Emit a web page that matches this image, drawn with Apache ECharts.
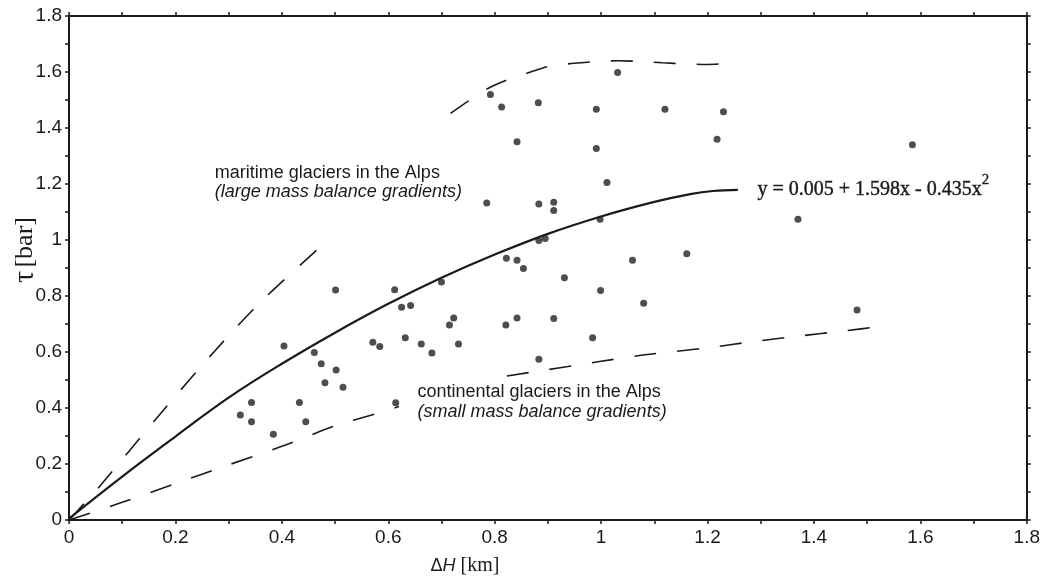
<!DOCTYPE html>
<html>
<head>
<meta charset="utf-8">
<script src="https://cdn.jsdelivr.net/npm/echarts@6/dist/echarts.min.js"></script>
<style>
  html, body { margin: 0; padding: 0; background: #fff; }
  #chart { width: 1043px; height: 579px; }
</style>
</head>
<body>
<div id="chart"></div>
<script>
// Individual glaciers: elevation range ΔH [km] against basal shear stress τ [bar]
const glacierPoints = [
  [0.322, 0.375], [0.343, 0.420], [0.343, 0.351], [0.384, 0.306], [0.404, 0.621],
  [0.433, 0.420], [0.445, 0.351], [0.461, 0.598], [0.474, 0.558], [0.481, 0.490],
  [0.501, 0.821], [0.502, 0.536], [0.515, 0.474], [0.571, 0.635], [0.584, 0.620],
  [0.612, 0.822], [0.614, 0.419], [0.625, 0.760], [0.642, 0.766], [0.632, 0.651],
  [0.662, 0.629], [0.682, 0.596], [0.700, 0.850], [0.715, 0.696], [0.723, 0.721],
  [0.732, 0.629], [0.785, 1.132], [0.792, 1.520], [0.813, 1.475], [0.821, 0.696],
  [0.822, 0.935], [0.842, 0.721], [0.842, 0.928], [0.842, 1.351], [0.854, 0.898],
  [0.882, 1.490], [0.883, 1.129], [0.883, 0.998], [0.895, 1.005], [0.883, 0.574],
  [0.911, 1.135], [0.911, 1.105], [0.911, 0.720], [0.931, 0.865], [0.984, 0.651],
  [0.991, 1.467], [0.991, 1.327], [0.998, 1.074], [0.999, 0.820], [1.011, 1.205],
  [1.031, 1.598], [1.059, 0.928], [1.080, 0.774], [1.120, 1.467], [1.161, 0.951],
  [1.218, 1.360], [1.230, 1.458], [1.370, 1.074], [1.481, 0.750], [1.585, 1.340]
];

// Regression curve through the cloud
const fitCurve = [
  [0, 0.005], [0.1, 0.155], [0.2, 0.298], [0.3, 0.437], [0.4, 0.558],
  [0.5, 0.669], [0.6, 0.772], [0.7, 0.865], [0.8, 0.948], [0.9, 1.022],
  [1.0, 1.084], [1.1, 1.136], [1.17, 1.165], [1.21, 1.175], [1.257, 1.179]
];

// Upper envelope (maritime glaciers); null leaves room for the label
const maritimeEnvelope = [
  [0, 0], [0.057, 0.119], [0.167, 0.369], [0.277, 0.610], [0.364, 0.786],
  [0.489, 1.004], null,
  [0.717, 1.452], [0.751, 1.497], [0.790, 1.544], [0.826, 1.574], [0.866, 1.599],
  [0.904, 1.621], [0.948, 1.631], [0.988, 1.637], [1.032, 1.640], [1.072, 1.638],
  [1.116, 1.633], [1.157, 1.629], [1.200, 1.627], [1.243, 1.631]
];

// Lower envelope (continental glaciers); null leaves room for the label
const continentalEnvelope = [
  [0, 0], [0.1, 0.063], [0.2, 0.130], [0.3, 0.197], [0.4, 0.263],
  [0.5, 0.336], [0.579, 0.381], [0.620, 0.405], null,
  [0.823, 0.514], [0.994, 0.565], [1.079, 0.589], [1.200, 0.615],
  [1.285, 0.637], [1.372, 0.657], [1.456, 0.675], [1.531, 0.693]
];

const axisMin = 0;
const axisMax = 1.8;
const tickStep = 0.2;

const INK = '#1a1a1a';
const SANS = '"Liberation Sans", Arial, sans-serif';
const SERIF = '"Liberation Serif", "Times New Roman", serif';

function frameAxis(position, showLabels) {
  return {
    type: 'value',
    position: position,
    min: axisMin,
    max: axisMax,
    interval: tickStep,
    axisLine: { show: true, onZero: false, lineStyle: { color: INK, width: 2 } },
    axisTick: { show: true, inside: false, length: 4, lineStyle: { color: INK, width: 1.5 } },
    minorTick: { show: true, splitNumber: 2, length: 4, lineStyle: { color: INK, width: 1.5 } },
    splitLine: { show: false },
    axisLabel: {
      show: showLabels,
      color: INK,
      fontFamily: SANS,
      fontSize: 19,
      margin: position === 'bottom' ? 8 : 7
    }
  };
}

const chart = echarts.init(document.getElementById('chart'), null, { renderer: 'canvas' });

const dashed = { color: INK, width: 1.6, type: [22, 21] };

chart.setOption({
  backgroundColor: '#ffffff',
  animation: false,
  grid: { left: 69, right: 13, top: 16, bottom: 59, containLabel: false },
  xAxis: [frameAxis('bottom', true), frameAxis('top', false)],
  yAxis: [frameAxis('left', true), frameAxis('right', false)],
  series: [
    {
      name: 'maritime envelope',
      type: 'line',
      data: maritimeEnvelope,
      smooth: 0.3,
      showSymbol: false,
      connectNulls: false,
      lineStyle: dashed,
      z: 2
    },
    {
      name: 'continental envelope',
      type: 'line',
      data: continentalEnvelope,
      smooth: 0.3,
      showSymbol: false,
      connectNulls: false,
      lineStyle: dashed,
      z: 2
    },
    {
      name: 'fit',
      type: 'line',
      data: fitCurve,
      smooth: 0.4,
      showSymbol: false,
      lineStyle: { color: INK, width: 2.2 },
      z: 3
    },
    {
      name: 'glaciers',
      type: 'scatter',
      data: glacierPoints,
      symbol: 'circle',
      symbolSize: 7,
      itemStyle: { color: '#222' },
      z: 4
    }
  ]
});

// Annotations anchored in data coordinates
const at = (x, y) => chart.convertToPixel({ gridIndex: 0 }, [x, y]);

function note(pos, text, style) {
  return {
    type: 'text',
    x: pos[0],
    y: pos[1],
    style: Object.assign({ text: text, fill: INK, verticalAlign: 'middle' }, style)
  };
}

const m1 = at(0.274, 1.239);
const m2 = at(0.274, 1.172);
const c1 = at(0.655, 0.457);
const c2 = at(0.655, 0.385);
const eq = at(1.294, 1.192);

chart.setOption({
  graphic: [
    note(m1, 'maritime glaciers in the Alps', { font: '18px ' + SANS }),
    note(m2, '(large mass balance gradients)', { font: 'italic 18px ' + SANS }),
    note(c1, 'continental glaciers in the Alps', { font: '18px ' + SANS }),
    note(c2, '(small mass balance gradients)', { font: 'italic 18px ' + SANS }),
    {
      type: 'text',
      x: eq[0],
      y: eq[1],
      style: {
        text: '{a|y = 0.005 + 1.598x - 0.435x}{s|2}',
        verticalAlign: 'middle',
        rich: {
          a: { fontFamily: SERIF, fontSize: 20, fill: INK, stroke: INK, lineWidth: 0.4, lineHeight: 28, verticalAlign: 'bottom' },
          s: { fontFamily: SERIF, fontSize: 15, fill: INK, stroke: INK, lineWidth: 0.3, lineHeight: 13, verticalAlign: 'top' }
        }
      }
    },
    {
      type: 'text',
      x: 465,
      y: 566,
      style: {
        text: '{d|Δ}{h|H}{k| [km]}',
        align: 'center',
        verticalAlign: 'middle',
        rich: {
          d: { fontFamily: SANS, fontSize: 18, fill: INK },
          h: { fontFamily: SANS, fontSize: 18, fontStyle: 'italic', fill: INK },
          k: { fontFamily: SERIF, fontSize: 20, fill: INK }
        }
      }
    },
    {
      type: 'text',
      x: 25,
      y: 250,
      rotation: Math.PI / 2,
      style: {
        text: '{t|τ} {b|[bar]}',
        align: 'center',
        verticalAlign: 'middle',
        rich: {
          t: { fontFamily: SERIF, fontSize: 30, fill: INK },
          b: { fontFamily: SERIF, fontSize: 26, fill: INK }
        }
      }
    }
  ]
});
</script>
</body>
</html>
